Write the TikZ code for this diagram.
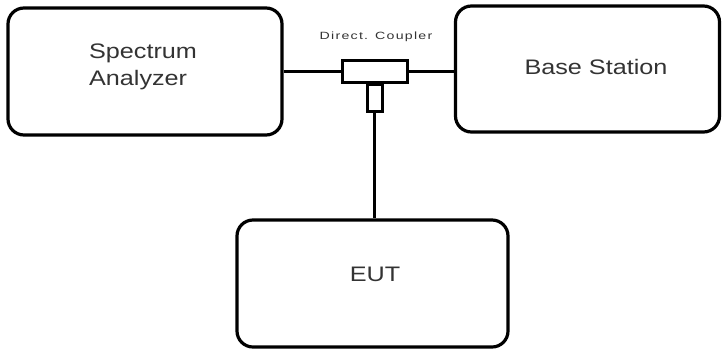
\documentclass[tikz,border=0pt]{standalone}
\usepackage{fontspec}
\setmainfont[FakeStretch=1.2]{Liberation Sans}
\newfontfamily\cplfont[FakeStretch=1.35,LetterSpace=12]{Liberation Sans}
\begin{document}
\begin{tikzpicture}[x=1bp,y=-1bp,
  box/.style={draw=black,line width=3.2bp,rounded corners=16bp,fill=white,inner sep=0pt},
  part/.style={draw=black,line width=3bp,fill=white,inner sep=0pt},
  wire/.style={draw=black,line width=3bp},
  lbl/.style={font=\fontsize{21bp}{27bp}\selectfont,text=black!80,align=left}]
\useasboundingbox (0,0) rectangle (722,351);
\node[box,minimum width=274bp,minimum height=127bp] (sa) at (145,71.5) {};
\node[box,minimum width=264bp,minimum height=126bp] (bs) at (587.5,69) {};
\node[box,minimum width=271bp,minimum height=127bp] (eut) at (372.5,283.5) {};
\node[part,minimum width=65bp,minimum height=22bp] (cpl) at (374.5,71.5) {};
\node[part,minimum width=15bp,minimum height=27bp,anchor=north] (stub) at (374.5,82.5) {};
\draw[wire] (sa.east |- cpl.west) -- (cpl.west);
\draw[wire] (cpl.east) -- (bs.west |- cpl.east);
\draw[wire] (stub.south) -- (stub.south |- eut.north);
\node[lbl] (salbl) at (143,67) {Spectrum\\Analyzer};
\node[lbl] (bslbl) at (596,67) {Base Station};
\node[lbl] (eutlbl) at (375,274) {EUT};
\node[font=\cplfont\fontsize{10.5bp}{12bp}\selectfont,text=black!80] (cpllbl) at (376,37) {Direct. Coupler};
\end{tikzpicture}
\end{document}
